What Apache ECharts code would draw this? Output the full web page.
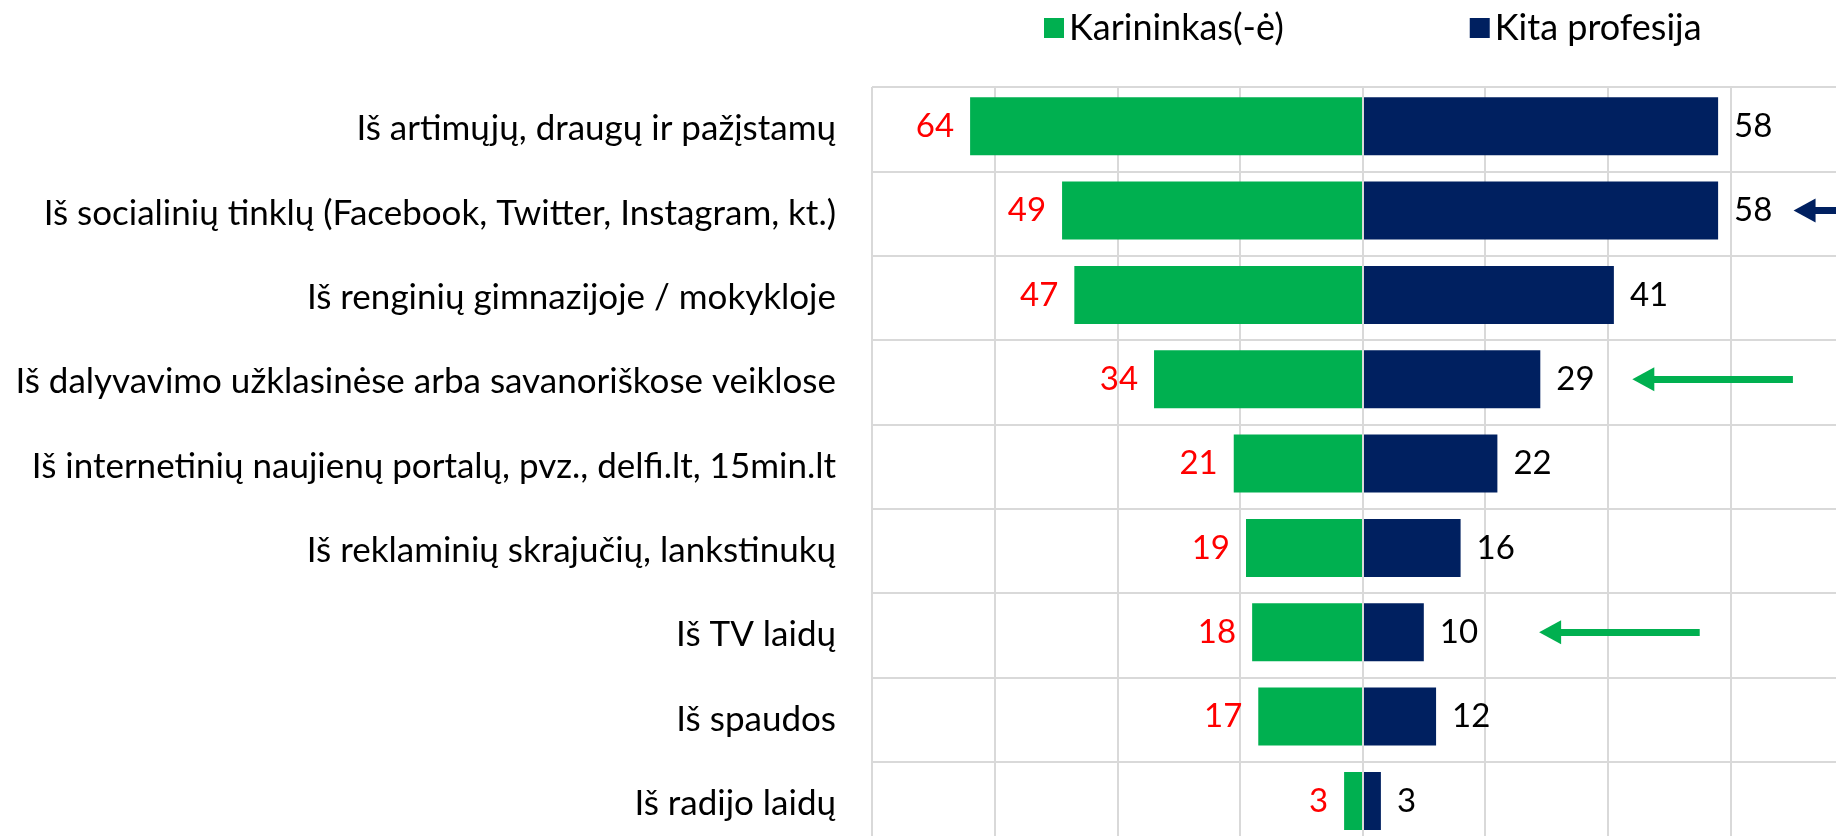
<!DOCTYPE html>
<html>
<head>
<meta charset="utf-8">
<script src="https://cdn.jsdelivr.net/npm/echarts@6/dist/echarts.min.js"></script>
<style>
  html, body { margin: 0; padding: 0; background: #fff; }
  #chart { width: 1836px; height: 836px; }
</style>
</head>
<body>
<div id="chart"></div>
<script>
// kategorijos (iš viršaus į apačią)
const categories = [
  "Iš artimųjų, draugų ir pažįstamų",
  "Iš socialinių tinklų (Facebook, Twitter, Instagram, kt.)",
  "Iš renginių gimnazijoje / mokykloje",
  "Iš dalyvavimo užklasinėse arba savanoriškose veiklose",
  "Iš internetinių naujienų portalų, pvz., delfi.lt, 15min.lt",
  "Iš reklaminių skrajučių, lankstinukų",
  "Iš TV laidų",
  "Iš spaudos",
  "Iš radijo laidų"
];
const seriesNames = ["Karininkas(-ė)", "Kita profesija"];
const officerValues = [64, 49, 47, 34, 21, 19, 18, 17, 3];
const otherValues = [58, 58, 41, 29, 22, 16, 10, 12, 3];

// rodyklės: [kategorija, uodega, smaigalys]
const greenArrows = [
  [categories[3], 70.2, 45.8],
  [categories[6], 55.0, 30.6]
];
const blueArrows = [
  [categories[1], 79.8, 72.1]
];

const FONT = "Lato";
const GREEN = "#00b050";
const NAVY = "#002060";
const GRID = "#d9d9d9";

function arrowData(list) {
  return list.map(a => [{ coord: [a[1], a[0]] }, { coord: [a[2], a[0]] }]);
}

function arrowLine(color, list) {
  return {
    silent: true,
    symbol: ["none", "triangle"],
    symbolSize: [24, 22],
    label: { show: false },
    lineStyle: { color: color, width: 7, type: "solid" },
    data: arrowData(list)
  };
}

const chart = echarts.init(document.getElementById("chart"));
chart.setOption({
  animation: false,
  textStyle: { fontFamily: FONT },
  legend: {
    left: 1039,
    top: 5,
    icon: "rect",
    itemWidth: 20,
    itemHeight: 20,
    itemGap: 186,
    textStyle: { fontSize: 36, color: "#000", fontFamily: FONT },
    data: seriesNames
  },
  grid: { left: 872, width: 981, top: 87, height: 759, outerBoundsMode: "none" },
  xAxis: {
    type: "value",
    min: -80,
    max: 80,
    interval: 20,
    axisLabel: { show: false },
    axisLine: { show: false },
    axisTick: { show: false },
    splitLine: { show: true, lineStyle: { color: GRID, width: 2 } }
  },
  yAxis: {
    type: "category",
    inverse: true,
    data: categories,
    axisLine: { show: false },
    axisTick: { show: false },
    axisLabel: { margin: 36, fontSize: 35, color: "#000", fontFamily: FONT },
    splitLine: { show: true, lineStyle: { color: GRID, width: 2 } }
  },
  series: [
    {
      name: seriesNames[0],
      type: "bar",
      stack: "total",
      barWidth: 58,
      itemStyle: { color: GREEN },
      label: {
        show: true,
        position: "left",
        distance: 16,
        fontSize: 33,
        color: "#ff0000",
        fontFamily: FONT,
        formatter: p => Math.abs(p.value)
      },
      data: officerValues.map(v => -v),
      markLine: arrowLine(GREEN, greenArrows)
    },
    {
      name: seriesNames[1],
      type: "bar",
      stack: "total",
      barWidth: 58,
      itemStyle: { color: NAVY },
      label: {
        show: true,
        position: "right",
        distance: 16,
        fontSize: 33,
        color: "#000",
        fontFamily: FONT
      },
      data: otherValues,
      markLine: arrowLine(NAVY, blueArrows)
    },
    {
      // vertikali ašis per nulį, virš stulpelių
      type: "bar",
      data: [],
      markLine: {
        silent: true,
        symbol: ["none", "none"],
        label: { show: false },
        lineStyle: { color: GRID, width: 2, type: "solid" },
        data: [{ xAxis: 0 }]
      }
    }
  ]
});
</script>
</body>
</html>
